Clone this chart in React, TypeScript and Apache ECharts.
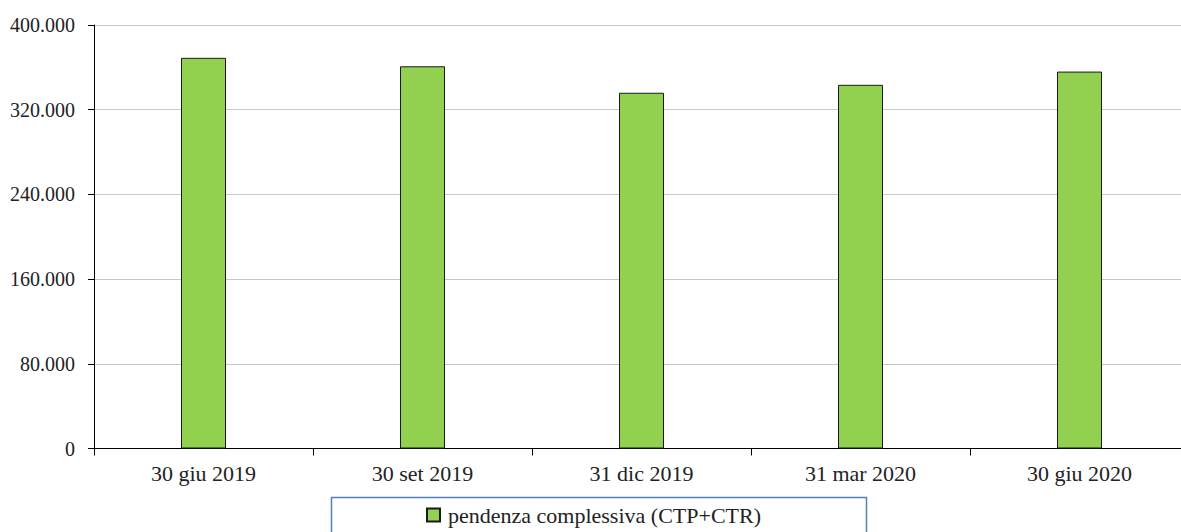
import React, { useEffect, useRef } from "react";
import * as echarts from "echarts";

const categories = ["30 giu 2019", "30 set 2019", "31 dic 2019", "31 mar 2020", "30 giu 2020"];
const values = [369000, 361000, 336000, 343500, 356000];
const seriesName = "pendenza complessiva (CTP+CTR)";

const fmt = (v: number) => (v === 0 ? "0" : v.toLocaleString("de-DE"));

export default function App() {
  const ref = useRef<HTMLDivElement>(null);
  useEffect(() => {
    if (!ref.current) return;
    document.documentElement.style.overflow = "hidden";
    document.body.style.overflow = "hidden";
    const chart = echarts.init(ref.current, undefined, { renderer: "svg" });
    const font = "'Liberation Serif', 'DejaVu Serif', serif";
    chart.setOption({
      animation: false,
      textStyle: { fontFamily: font },
      grid: { left: 94, right: 0, top: 25, bottom: 83.5 },
      xAxis: {
        type: "category",
        data: categories,
        axisLine: { lineStyle: { color: "#000", width: 1 } },
        axisTick: { show: true, length: 7, lineStyle: { color: "#000" } },
        axisLabel: { color: "#222", fontSize: 22, fontFamily: font, margin: 14 },
      },
      yAxis: {
        type: "value",
        min: 0,
        max: 400000,
        interval: 80000,
        axisLine: { show: true, lineStyle: { color: "#000", width: 1 } },
        axisTick: { show: true, length: 6, lineStyle: { color: "#000" } },
        axisLabel: { color: "#222", fontSize: 20, fontFamily: font, margin: 19, formatter: fmt },
        splitLine: { lineStyle: { color: "#c8c8c8", width: 1 } },
      },
      legend: {
        data: [{ name: seriesName, icon: "rect" }],
        left: 424,
        top: 502,
        padding: 2,
        itemWidth: 13,
        itemHeight: 13,
        itemGap: 4,
        textStyle: { color: "#222", fontSize: 22, fontFamily: font, padding: [0, 0, 0, 3] },
      },
      graphic: [
        {
          type: "rect",
          shape: { x: 331.5, y: 497.5, width: 535, height: 50 },
          style: { fill: "none", stroke: "#4f81bd", lineWidth: 1.5 },
          z: -1,
        },
      ],
      series: [
        {
          name: seriesName,
          type: "bar",
          data: values,
          barWidth: 45,
          itemStyle: { color: "#92d050", borderColor: "#1a1a1a", borderWidth: 1 },
        },
      ],
    });
    return () => chart.dispose();
  }, []);
  return (
    <div
      ref={ref}
      style={{ position: "absolute", left: 0, top: 0, width: 1189, height: 532, background: "#fff" }}
    />
  );
}
